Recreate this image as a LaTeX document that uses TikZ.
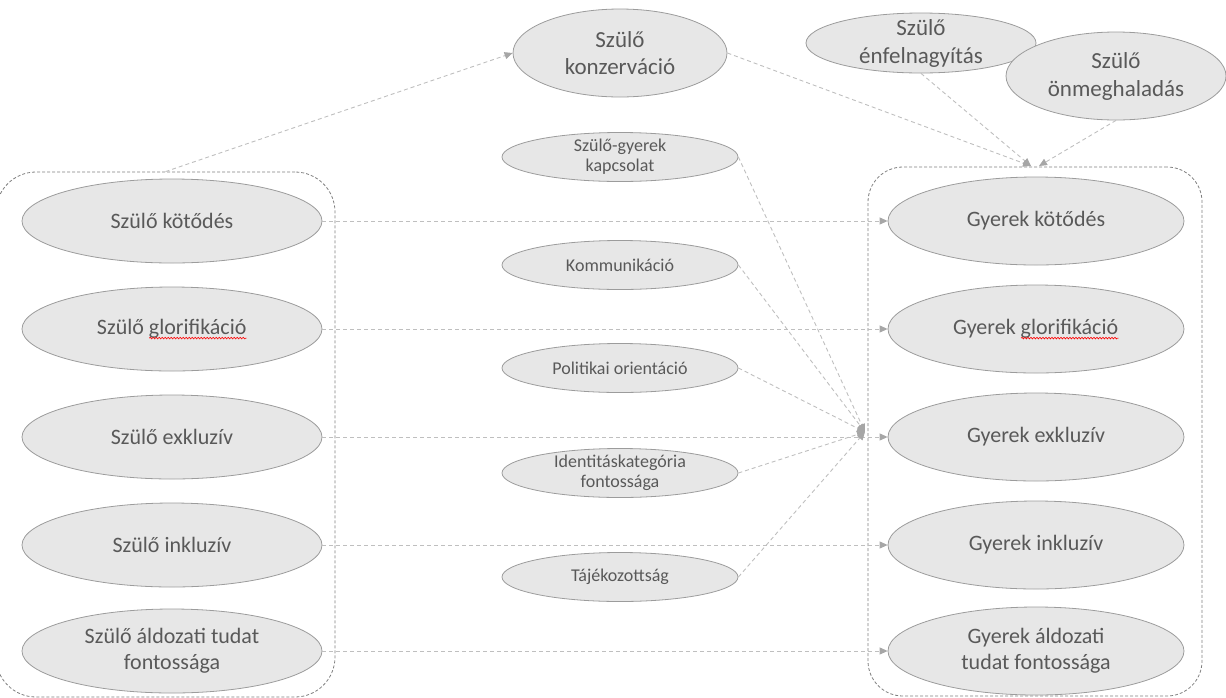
\documentclass[tikz,border=0pt]{standalone}
\usepackage{fontspec}
\setmainfont{Carlito}
\usetikzlibrary{shapes.geometric,arrows.meta,decorations.pathmorphing}
\definecolor{ellfill}{HTML}{E7E7E7}
\definecolor{ellline}{HTML}{9C9C9C}
\definecolor{txtgray}{HTML}{595959}
\definecolor{connline}{HTML}{BFBFBF}
\definecolor{tipgray}{HTML}{A6A6A6}
\definecolor{boxline}{HTML}{7F7F7F}
\newsavebox\spellbox
\newlength\spellwd
\newcommand\spellmark[1]{\sbox\spellbox{#1}\setlength\spellwd{\wd\spellbox}\leavevmode\usebox\spellbox\hspace{-\spellwd}\tikz[baseline=0pt]\draw[red,line width=0.6pt,decorate,decoration={snake,amplitude=0.8pt,segment length=3pt}] (0pt,-4pt) -- (\spellwd,-4pt);}

\begin{document}
\begin{tikzpicture}[x=1pt,y=-1pt,
ell/.style n args={4}{ellipse,draw=ellline,fill=ellfill,line width=0.8pt,inner sep=0pt,text=txtgray,align=center,minimum width=#1,minimum height=#2,font=\fontsize{#3}{#4}\selectfont},
conn/.style={draw=connline,dash pattern=on 4pt off 3pt,line width=0.9pt,-{Triangle[length=8pt,width=7pt,color=tipgray]}},
grpbox/.style={rectangle,draw=boxline,dash pattern=on 3pt off 2pt,line width=0.8pt,rounded corners=40pt}]
\useasboundingbox (0,0) rectangle (1226,697);
\node[grpbox,minimum width=339pt,minimum height=525pt] (lgrp) at (165.5,434.5) {};
\node[grpbox,rounded corners=35pt,minimum width=334pt,minimum height=529pt] (rgrp) at (1035,431.5) {};
\coordinate (hub) at (865,432);
\coordinate (topa) at (1031,166);
\coordinate (topb) at (1039,166);
\foreach \y/\n/\ltext/\rtext in %
{221/kot/{Szülő kötődés}/{Gyerek kötődés},329/glo/{Szülő \spellmark{glorifikáció}}/{Gyerek \spellmark{glorifikáció}},437/exk/{Szülő exkluzív}/{Gyerek exkluzív},545/ink/{Szülő inkluzív}/{Gyerek inkluzív},651/ald/{Szülő áldozati tudat\\fontossága}/{Gyerek áldozati\\tudat fontossága}} {
   \node[ell={300pt}{84pt}{22}{26}] (sz\n) at (172,\y) {\ltext};
   \node[ell={296pt}{88pt}{22}{26}] (gy\n) at (1036,\y) {\rtext};
   \draw[conn] (sz\n) -- (gy\n);
}
\foreach \y/\n/\mtext in %
{157/kap/{Szülő-gyerek\\kapcsolat},265/kom/{Kommunikáció},368/pol/{Politikai orientáció},473/ide/{Identitáskategória\\fontossága},577/taj/{Tájékozottság}} {
   \node[ell={236pt}{49pt}{18}{20},inner sep=-2pt] (\n) at (620,\y) {\mtext};
   \draw[conn] (\n.east) -- (hub);
}
\node[ell={214pt}{88pt}{23}{27}] (szkon) at (620,53) {Szülő\\konzerváció};
\node[ell={230pt}{60pt}{23}{28},inner sep=-8pt] (szenf) at (921,43) {Szülő\\énfelnagyítás};
\node[ell={220pt}{88pt}{23}{28}] (szonm) at (1116,76) {Szülő\\önmeghaladás};
\draw[conn] (lgrp.north) -- (szkon.west);
\draw[conn] (szkon.east) -- (topa);
\draw[conn] (szenf.south) -- (topa);
\draw[conn] (szonm.south) -- (topb);
\end{tikzpicture}
\end{document}
